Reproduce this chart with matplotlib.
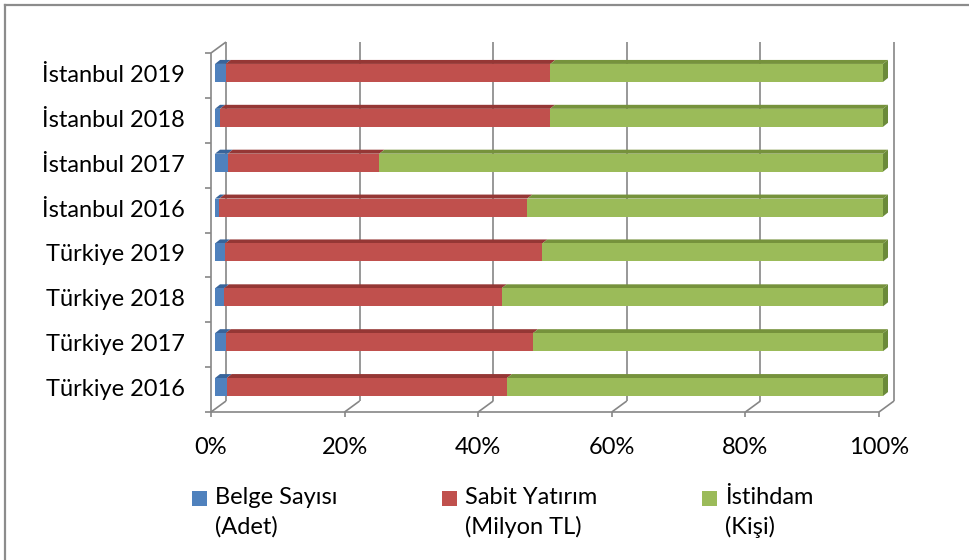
import numpy as np
import matplotlib
matplotlib.use("Agg")
import matplotlib.pyplot as plt
from matplotlib.patches import Polygon, Rectangle

plt.rcParams["font.family"] = ["Lato", "DejaVu Sans"]

CATEGORIES = ["Türkiye 2016", "Türkiye 2017", "Türkiye 2018", "Türkiye 2019",
              "İstanbul 2016", "İstanbul 2017", "İstanbul 2018", "İstanbul 2019"]
BELGE = [1.75, 1.6, 1.35, 1.5, 0.65, 1.9, 0.75, 1.6]
YATIRIM = [41.95, 46.0, 41.55, 47.5, 46.1, 22.7, 49.4, 48.6]
ISTIHDAM = [56.3, 52.4, 57.1, 51.0, 53.25, 75.4, 49.85, 49.8]

SERIES = [("Belge Sayısı", "(Adet)"), ("Sabit Yatırım", "(Milyon TL)"), ("İstihdam", "(Kişi)")]
FRONT = ["#4F81BD", "#C0504D", "#9BBB59"]
TOP = ["#38649A", "#953735", "#76923C"]
SIDE = ["#335B8C", "#8A3230", "#6B8A3A"]
XTICKS = [0, 20, 40, 60, 80, 100]
FS = 17

W, H = 969, 560
fig = plt.figure(figsize=(W / 100, H / 100), dpi=100)

# front plane of the 3d box in pixels
x0, x1, y_top, y_bot = 211, 879, 53, 412
ax = fig.add_axes([x0 / W, 1 - y_bot / H, (x1 - x0) / W, (y_bot - y_top) / H])
ax.set_xlim(0, 100)
ax.set_ylim(-0.5, len(CATEGORIES) - 0.5)
ax.axis("off")

pxx = 100 / (x1 - x0)
pxy = len(CATEGORIES) / (y_bot - y_top)
bdx, bdy = 15 * pxx, 11 * pxy  # depth of the box
grid_kw = dict(color="#868686", lw=1.2, clip_on=False, solid_capstyle="butt")

# back wall gridlines + floor diagonals
for t in XTICKS:
    ax.plot([t + bdx, t + bdx], [-0.5 + bdy, len(CATEGORIES) - 0.5 + bdy], zorder=1, **grid_kw)
    ax.plot([t, t + bdx], [-0.5, -0.5 + bdy], zorder=1, **grid_kw)
    ax.plot([t, t], [-0.5, -0.5 - 5 * pxy], zorder=1, **grid_kw)
ax.plot([0, 100], [-0.5, -0.5], zorder=1, **grid_kw)

# left wall
ytop = len(CATEGORIES) - 0.5
ax.plot([0, 0], [-0.5, ytop], zorder=1, **grid_kw)
ax.plot([0, bdx], [ytop, ytop + bdy], zorder=1, **grid_kw)
for k in range(len(CATEGORIES) + 1):
    ax.plot([0, -6 * pxx], [k - 0.5, k - 0.5], zorder=1, **grid_kw)

# bars
ox, oy = 4 * pxx, 2.5 * pxy
bh = 18 * pxy
ddx, ddy = 5 * pxx, 4 * pxy
data = np.array([BELGE, YATIRIM, ISTIHDAM])
data = data / data.sum(axis=0) * 100
for i in range(len(CATEGORIES)):
    left = 0.0
    yb = i - bh / 2 + oy
    yt = i + bh / 2 + oy
    for s in range(3):
        w = data[s, i]
        a, b = left + ox, left + w + ox
        ax.add_patch(Polygon([(a, yt), (b, yt), (b + ddx, yt + ddy), (a + ddx, yt + ddy)],
                             closed=True, fc=TOP[s], ec="none", zorder=3, clip_on=False))
        ax.add_patch(Rectangle((a, yb), w, bh, fc=FRONT[s], ec="none", zorder=4, clip_on=False))
        if s == 2:
            ax.add_patch(Polygon([(b, yb), (b, yt), (b + ddx, yt + ddy), (b + ddx, yb + ddy)],
                                 closed=True, fc=SIDE[s], ec="none", zorder=4, clip_on=False))
        left += w

# labels
for i, name in enumerate(CATEGORIES):
    ax.text(-26 * pxx, i, name, ha="right", va="center", fontsize=FS, color="black")
for t in XTICKS:
    ax.text(t, -0.5 - 35 * pxy, f"{t}%", ha="center", va="center", fontsize=FS, color="black")

# legend
leg_x = [192, 442, 702]
for s in range(3):
    fig.patches.append(Rectangle((leg_x[s] / W, 1 - 506 / H), 15 / W, 15 / H, fc=FRONT[s], ec="none",
                                 transform=fig.transFigure))
    for j, line in enumerate(SERIES[s]):
        fig.text((leg_x[s] + 23) / W, 1 - (498 + 29 * j) / H, line, ha="left", va="center",
                 fontsize=FS, transform=fig.transFigure)

# chart border (left and top)
fig.add_artist(plt.Line2D([4.5 / W, 4.5 / W], [0, 1 - 4.5 / H], color="#8C8C8C", lw=1.6))
fig.add_artist(plt.Line2D([4.5 / W, 1], [1 - 4.5 / H, 1 - 4.5 / H], color="#8C8C8C", lw=1.6))

fig.savefig("out.png", dpi=100)
